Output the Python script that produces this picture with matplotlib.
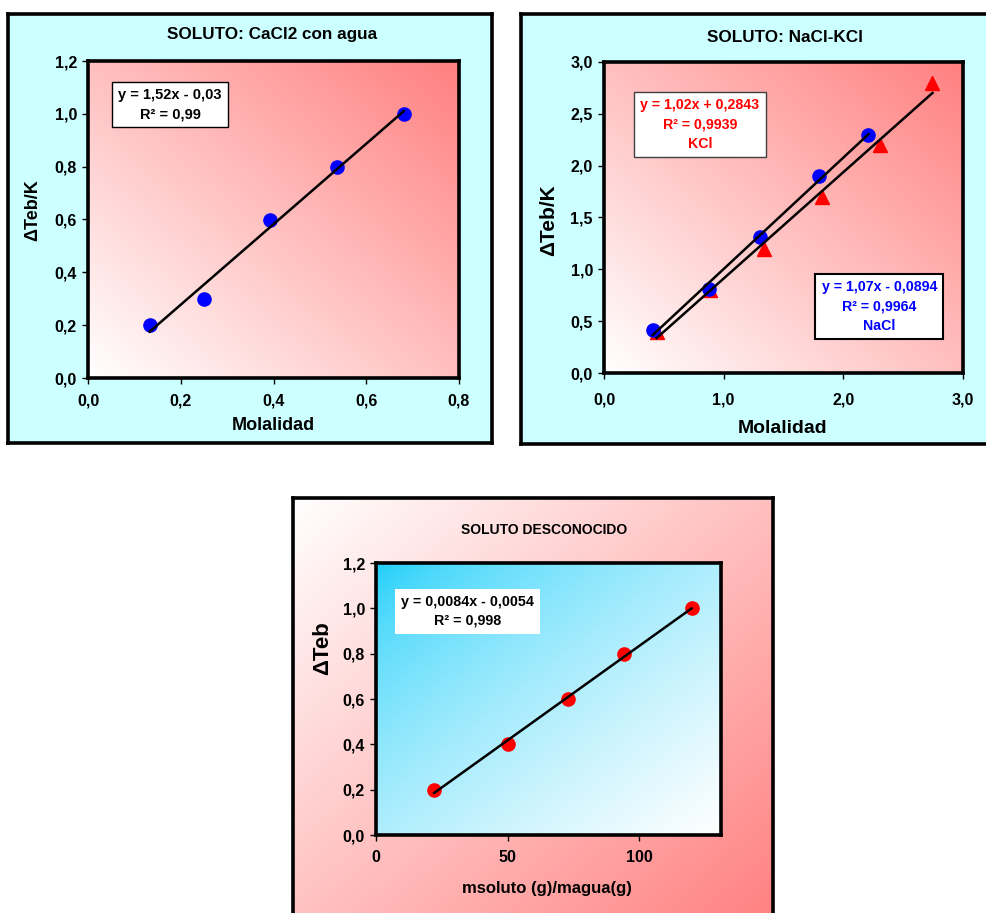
"""Ebullioscopy plots: three panels with linear trend lines."""

import matplotlib

matplotlib.use("Agg")
import matplotlib.pyplot as plt
import numpy as np
from matplotlib.ticker import FuncFormatter, MultipleLocator

# Figure size in pixels (dpi 100).
W, H = 986, 913

# Panel 1: CaCl2 with water.
cacl2_molal = [0.133, 0.251, 0.392, 0.536, 0.681]
cacl2_dteb = [0.2, 0.3, 0.6, 0.8, 1.0]

# Panel 2: NaCl and KCl.
nacl_molal = [0.407, 0.88, 1.30, 1.80, 2.21]
nacl_dteb = [0.415, 0.807, 1.31, 1.90, 2.30]
kcl_molal = [0.44, 0.885, 1.34, 1.82, 2.31, 2.745]
kcl_dteb = [0.4, 0.8, 1.2, 1.7, 2.2, 2.8]

# Panel 3: unknown solute.
unk_ratio = [22.1, 50.1, 72.9, 94.3, 119.8]
unk_dteb = [0.2, 0.4, 0.6, 0.8, 1.0]

plt.rcParams["font.family"] = ["Liberation Sans", "DejaVu Sans"]
plt.rcParams["font.weight"] = "bold"
plt.rcParams["axes.labelweight"] = "bold"

CYAN_BG = "#CCFFFF"
WHITE = np.array([1.0, 1.0, 1.0])
SALMON = np.array([1.0, 0.5, 0.5])
SKY = np.array([0.07, 0.8, 0.98])


def px_rect(x0, y0, x1, y1):
    """Pixel box (top-left origin) to figure fraction [left, bottom, w, h]."""
    return [x0 / W, 1 - y1 / H, (x1 - x0) / W, (y1 - y0) / H]


def gradient(c0, c1, rising=True, gamma=1.0):
    """Diagonal gradient image: c0 -> c1, bottom-left to top-right if rising."""
    u, v = np.meshgrid(np.linspace(0, 1, 200), np.linspace(0, 1, 200))
    t = (u + v) / 2 if rising else (u + (1 - v)) / 2
    t = t ** gamma
    return c0 * (1 - t[..., None]) + c1 * t[..., None]


def comma(v, _pos=None, digits=1):
    return f"{v:.{digits}f}".replace(".", ",")


def add_panel(rect, image=None, color=None):
    """Outer chart area with thick black border."""
    ax = fig.add_axes(px_rect(*rect))
    if image is not None:
        ax.imshow(image, extent=[0, 1, 0, 1], origin="lower", aspect="auto")
    else:
        ax.set_facecolor(color)
    ax.set_xlim(0, 1)
    ax.set_ylim(0, 1)
    ax.set_xticks([])
    ax.set_yticks([])
    for s in ax.spines.values():
        s.set_linewidth(2.6)
    return ax


def add_plot(rect, image):
    """Plot area with gradient fill and thick border."""
    ax = fig.add_axes(px_rect(*rect))
    ax.imshow(image, extent=[0, 1, 0, 1], origin="lower", aspect="auto",
              transform=ax.transAxes, zorder=0)
    for s in ax.spines.values():
        s.set_linewidth(2.6)
    ax.tick_params(direction="out", length=4, width=1, labelsize=11.5,
                   top=False, right=False)
    ax.tick_params(axis="x", pad=7)
    ax.tick_params(axis="y", pad=4)
    return ax


def trend(ax, x, y):
    coef = np.polyfit(x, y, 1)
    xs = np.array([min(x), max(x)])
    ax.plot(xs, np.polyval(coef, xs), color="black", lw=1.8, zorder=4)


def fig_text(x, y, s, **kw):
    fig.text(x / W, 1 - y / H, s, ha="center", va="center", **kw)


fig = plt.figure(figsize=(W / 100, H / 100), dpi=100)

# ---- Panel 1 ----
add_panel((8, 14, 492, 443), color=CYAN_BG)
ax1 = add_plot((88, 61, 459, 378), gradient(WHITE, SALMON, rising=True))
ax1.plot(cacl2_molal, cacl2_dteb, "o", color="#0000FF", ms=9.5, zorder=3)
trend(ax1, cacl2_molal, cacl2_dteb)
ax1.set_xlim(0, 0.8)
ax1.set_ylim(0, 1.2)
ax1.xaxis.set_major_locator(MultipleLocator(0.2))
ax1.yaxis.set_major_locator(MultipleLocator(0.2))
ax1.xaxis.set_major_formatter(FuncFormatter(comma))
ax1.yaxis.set_major_formatter(FuncFormatter(comma))
ax1.text(0.221, 0.863, "y = 1,52x - 0,03\nR² = 0,99", transform=ax1.transAxes,
         ha="center", va="center", fontsize=10.5, zorder=6, linespacing=1.5,
         bbox=dict(boxstyle="square,pad=0.4", fc="white", ec="black", lw=1))
fig_text(272, 34, "SOLUTO: CaCl2 con agua", fontsize=12.3)
fig_text(273, 426, "Molalidad", fontsize=13)
fig_text(33, 210, "ΔTeb/K", fontsize=13, rotation=90)

# ---- Panel 2 ----
add_panel((521, 14, 1010, 444), color=CYAN_BG)
ax2 = add_plot((604, 62, 963, 373), gradient(WHITE, SALMON, rising=True))
ax2.plot(kcl_molal, kcl_dteb, "^", color="#FF0000", ms=9.5, zorder=3)
ax2.plot(nacl_molal, nacl_dteb, "o", color="#0000FF", ms=9.5, zorder=3)
trend(ax2, kcl_molal, kcl_dteb)
trend(ax2, nacl_molal, nacl_dteb)
ax2.set_xlim(0, 3)
ax2.set_ylim(0, 3)
ax2.xaxis.set_major_locator(MultipleLocator(1.0))
ax2.yaxis.set_major_locator(MultipleLocator(0.5))
ax2.xaxis.set_major_formatter(FuncFormatter(comma))
ax2.yaxis.set_major_formatter(FuncFormatter(comma))
ax2.tick_params(axis="x", pad=10)
ax2.text(0.267, 0.799, "y = 1,02x + 0,2843\nR² = 0,9939\nKCl",
         transform=ax2.transAxes, ha="center", va="center", fontsize=10.2,
         color="#FF0000", zorder=6, linespacing=1.5,
         bbox=dict(boxstyle="square,pad=0.45", fc="white", ec="#404040", lw=1))
ax2.text(0.767, 0.214, "y = 1,07x - 0,0894\nR² = 0,9964\nNaCl",
         transform=ax2.transAxes, ha="center", va="center", fontsize=10.2,
         color="#0000FF", zorder=6, linespacing=1.5,
         bbox=dict(boxstyle="square,pad=0.45", fc="white", ec="black", lw=1.5))
fig_text(785, 37, "SOLUTO: NaCl-KCl", fontsize=12.3)
fig_text(783, 428, "Molalidad", fontsize=14)
fig_text(549, 220, "ΔTeb/K", fontsize=15, rotation=90)

# ---- Panel 3 ----
add_panel((293, 498, 773, 930), image=gradient(WHITE, SALMON, rising=False))
ax3 = add_plot((376, 563, 721, 835),
               gradient(SKY, WHITE, rising=False, gamma=0.6))
ax3.plot(unk_ratio, unk_dteb, "o", color="#FF0000", ms=9.5, zorder=3)
trend(ax3, unk_ratio, unk_dteb)
ax3.set_xlim(0, 131)
ax3.set_ylim(0, 1.2)
ax3.xaxis.set_major_locator(MultipleLocator(50))
ax3.yaxis.set_major_locator(MultipleLocator(0.2))
ax3.yaxis.set_major_formatter(FuncFormatter(comma))
ax3.text(0.265, 0.822, "y = 0,0084x - 0,0054\nR² = 0,998",
         transform=ax3.transAxes, ha="center", va="center", fontsize=10.3,
         zorder=6, linespacing=1.45,
         bbox=dict(boxstyle="square,pad=0.4", fc="white", ec="none"))
fig_text(544, 530, "SOLUTO DESCONOCIDO", fontsize=10)
fig_text(547, 888, "msoluto (g)/magua(g)", fontsize=12)
fig_text(323, 648, "ΔTeb", fontsize=16, rotation=90)

fig.savefig("out.png", dpi=100)
